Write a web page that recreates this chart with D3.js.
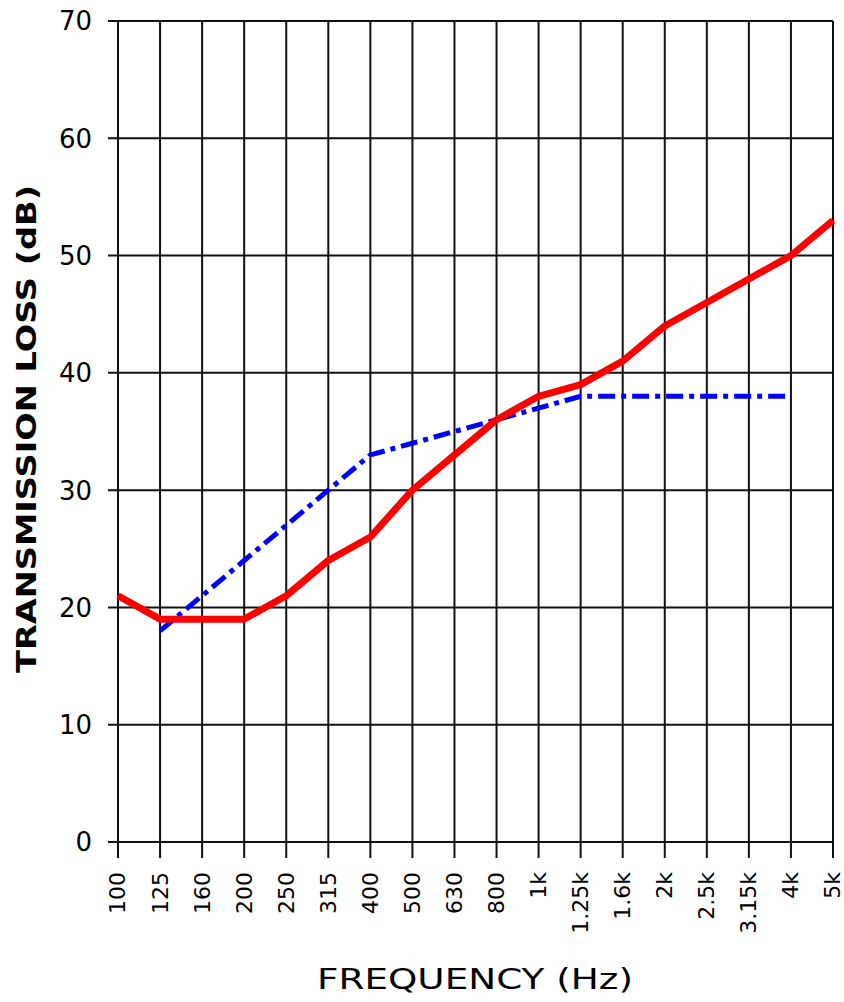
<!DOCTYPE html>
<html>
<head>
<meta charset="utf-8">
<script src="https://cdn.jsdelivr.net/npm/d3@7"></script>
<style>
  body { margin: 0; background: #fff; }
  text { font-family: "DejaVu Sans", Verdana, sans-serif; fill: #000; }
</style>
</head>
<body>
<div id="chart"></div>
<script>
'use strict'

// frequency bands (1/3 octave)
const bands = ["100", "125", "160", "200", "250", "315", "400", "500", "630", "800",
    "1k", "1.25k", "1.6k", "2k", "2.5k", "3.15k", "4k", "5k"]

// solid red curve
const redValues = [21, 19, 19, 19, 21, 24, 26, 30, 33, 36, 38, 39, 41, 44, 46, 48, 50, 53]

// blue dash-dot curve (starts at 125, ends at 4k)
const blueBands = ["125", "160", "200", "250", "315", "400", "500", "630", "800",
    "1k", "1.25k", "1.6k", "2k", "2.5k", "3.15k", "4k"]
const blueValues = [18, 21, 24, 27, 30, 33, 34, 35, 36, 37, 38, 38, 38, 38, 38, 38]

const yTicks = [0, 10, 20, 30, 40, 50, 60, 70]

////////////////////////////////////
//////////// svg setup /////////////
////////////////////////////////////

const svgWidth = 844
const svgHeight = 1002
const margin = { left: 118, right: 11, top: 21, bottom: 160 }
const width = svgWidth - margin.left - margin.right
const height = svgHeight - margin.top - margin.bottom

const svg = d3.select('#chart')
    .append('svg')
    .attr('width', svgWidth)
    .attr('height', svgHeight)
    .append('g')
    .attr('transform', `translate(${margin.left},${margin.top})`)

////////////////////////////////////
//////////// Scales ////////////////
////////////////////////////////////

const x = d3.scalePoint()
    .domain(bands)
    .range([0, width])

const y = d3.scaleLinear()
    .domain([0, 70])
    .range([height, 0])

////////////////////////////////////
//////////// grid + axes ///////////
////////////////////////////////////

// vertical grid lines + ticks below the axis
svg.append('g')
    .selectAll('line')
    .data(bands)
    .join('line')
    .attr('x1', d => x(d))
    .attr('x2', d => x(d))
    .attr('y1', 0)
    .attr('y2', height + 16)
    .style('stroke', '#111')
    .style('stroke-width', '2px')

// horizontal grid lines + ticks left of the axis
svg.append('g')
    .selectAll('line')
    .data(yTicks)
    .join('line')
    .attr('x1', -10)
    .attr('x2', width)
    .attr('y1', d => y(d))
    .attr('y2', d => y(d))
    .style('stroke', '#111')
    .style('stroke-width', '2px')

// y tick labels
svg.append('g')
    .selectAll('text')
    .data(yTicks)
    .join('text')
    .attr('x', -26)
    .attr('y', d => y(d))
    .attr('dy', '0.36em')
    .attr('text-anchor', 'end')
    .style('font-size', '26px')
    .text(d => d)

// x tick labels, rotated
svg.append('g')
    .selectAll('text')
    .data(bands)
    .join('text')
    .attr('transform', d => `translate(${x(d)},${height + 30}) rotate(-90)`)
    .attr('dy', '0.34em')
    .attr('text-anchor', 'end')
    .style('font-size', '22px')
    .text(d => d)

// axis titles (stretched wide like the original)
svg.append('text')
    .attr('x', 317 - margin.left)
    .attr('y', 989 - margin.top)
    .attr('textLength', 316)
    .attr('lengthAdjust', 'spacingAndGlyphs')
    .style('font-size', '28px')
    .text('FREQUENCY (Hz)')

svg.append('text')
    .attr('transform', `translate(${36 - margin.left},${673 - margin.top}) rotate(-90)`)
    .attr('textLength', 488)
    .attr('lengthAdjust', 'spacingAndGlyphs')
    .style('font-size', '27px')
    .style('font-weight', 'bold')
    .text('TRANSMISSION LOSS (dB)')

////////////////////////////////////
//////////// curves ////////////////
////////////////////////////////////

const line = d3.line()
    .x(d => x(d[0]))
    .y(d => y(d[1]))

svg.append('path')
    .datum(d3.zip(blueBands, blueValues))
    .attr('d', line)
    .style('fill', 'none')
    .style('stroke', '#0000ff')
    .style('stroke-width', '5px')
    .style('stroke-dasharray', '17 6 5 6')

svg.append('path')
    .datum(d3.zip(bands, redValues))
    .attr('d', line)
    .style('fill', 'none')
    .style('stroke', '#ff0000')
    .style('stroke-width', '7px')
    .style('stroke-linejoin', 'round')
</script>
</body>
</html>
